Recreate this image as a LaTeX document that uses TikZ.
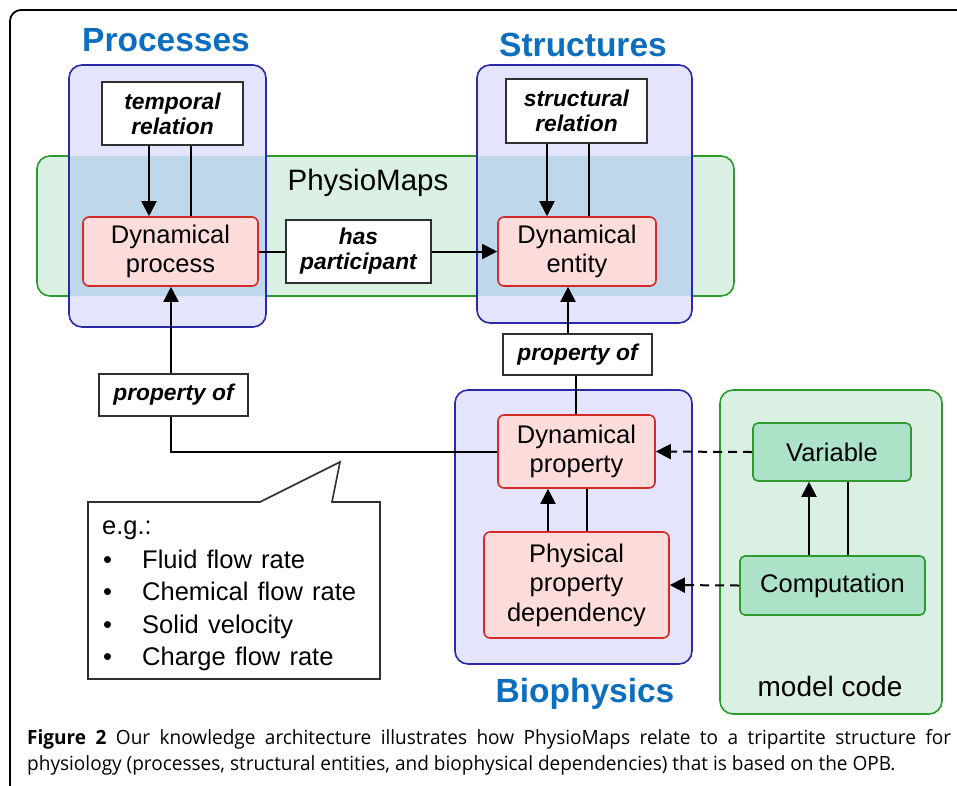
\documentclass[tikz,border=0pt]{standalone}
\usepackage{fontspec}
\setmainfont{Liberation Sans}
\newfontfamily\capfont[FakeStretch=0.97]{Open Sans}
\newfontfamily\calfamily[WordSpace=1.3]{Liberation Sans}
\usetikzlibrary{arrows.meta,calc}
\definecolor{titleblue}{RGB}{12,110,190}
\definecolor{lav}{HTML}{E4E4FC}
\definecolor{bluebd}{HTML}{2A2AA8}
\definecolor{lgreen}{HTML}{D9F0E3}
\definecolor{greenbd}{HTML}{2E9A2E}
\definecolor{ovl}{HTML}{BFD7EA}
\definecolor{pinkc}{HTML}{FFDCDC}
\definecolor{redbd}{HTML}{D42A2A}
\definecolor{mgreen}{HTML}{ABE2C8}
\definecolor{relbd}{HTML}{303030}
\newcommand\nodefont{\fontsize{25.5}{29.5}\selectfont}
\newcommand\relfont{\bfseries\itshape\fontsize{22.8}{25}\selectfont}
\newcommand\titlefont{\bfseries\fontsize{33.5}{38}\selectfont}
\newcommand\calfont{\calfamily\fontsize{25.5}{32}\selectfont}
\newcommand\bul[1]{\makebox[40pt][l]{\hspace{1pt}\textbullet}#1}
\begin{document}
\begin{tikzpicture}[x=1pt,y=-1pt,
  redn/.style={draw=redbd, fill=pinkc, line width=1.6pt, rounded corners=6pt,
    align=center, font=\nodefont, inner sep=0pt},
  greenn/.style={draw=greenbd, fill=mgreen, line width=1.6pt, rounded corners=5pt,
    align=center, font=\nodefont, inner sep=0pt},
  relbox/.style={draw=relbd, fill=white, line width=1.6pt, align=center,
    font=\relfont, inner sep=0pt},
  grouptitle/.style={font=\titlefont, text=titleblue, inner sep=0pt},
  bluegrp/.style={draw=bluebd, line width=1.6pt, rounded corners=13pt},
  greengrp/.style={draw=greenbd, fill=lgreen, line width=1.6pt, rounded corners=13pt},
  conn/.style={line width=2pt, draw=black},
  arr/.style={conn, -{Triangle[length=15pt,width=15pt]}},
  dasharr/.style={arr, dash pattern=on 9pt off 6pt},
  calltext/.style={anchor=base west, font=\calfont, inner sep=0pt}
]
\useasboundingbox (0,0) rectangle (957,785);
\clip (0,0) rectangle (957,785);
% outer frame
\draw[line width=1.8pt, rounded corners=11pt] (10,10) rectangle (990,820);

% PhysioMaps group
\draw[greengrp] (37,156) rectangle (734,296);
% Processes / Structures groups (fills)
\fill[lav, rounded corners=13pt] (69,65) rectangle (266,327);
\fill[lav, rounded corners=13pt] (477,65) rectangle (692,323);
\begin{scope}
  \clip[rounded corners=13pt] (37,156) rectangle (734,296);
  \fill[ovl, rounded corners=13pt] (69,65) rectangle (266,327);
  \fill[ovl, rounded corners=13pt] (477,65) rectangle (692,323);
\end{scope}
\draw[bluegrp] (69,65) rectangle (266,327);
\draw[bluegrp] (477,65) rectangle (692,323);
% Biophysics group
\draw[bluegrp, fill=lav] (455,390) rectangle (692,664);
% model code group
\draw[greengrp] (720,390) rectangle (942,714);

% titles and labels
\node[grouptitle] (tproc) at (166,40) {Processes};
\node[grouptitle] (tstruct) at (583,45) {Structures};
\node[grouptitle] (tbio) at (585,694) {Biophysics};
\node[font=\fontsize{29.5}{33}\selectfont, inner sep=0pt] (tmaps) at (368,183) {PhysioMaps};
\node[font=\fontsize{28}{32}\selectfont, inner sep=0pt] (tcode) at (830,686) {model code};

% nodes
\node[relbox, minimum width=141pt, minimum height=63pt] (trel) at (172.5,113.5) {temporal\\relation};
\node[redn, minimum width=175pt, minimum height=69pt] (dproc) at (170.5,251.5) {Dynamical\\process};
\node[relbox, minimum width=145pt, minimum height=63pt] (hasp) at (358.5,251.5) {has\\participant};
\node[relbox, minimum width=141pt, minimum height=64pt] (srel) at (576.5,111) {structural\\relation};
\node[redn, minimum width=158pt, minimum height=69pt] (dent) at (577,251.5) {Dynamical\\entity};
\node[relbox, minimum width=149pt, minimum height=41pt] (prop2) at (577.5,354.5) {property of};
\node[redn, minimum width=157pt, minimum height=73pt] (dprop) at (576.5,451.5) {Dynamical\\property};
\node[redn, minimum width=185pt, minimum height=106pt] (ppd) at (576.5,585) {Physical\\property\\dependency};
\node[greenn, minimum width=158pt, minimum height=58pt] (var) at (832,452) {Variable};
\node[greenn, minimum width=185pt, minimum height=59pt] (comp) at (832.5,585.5) {Computation};
\node[relbox, minimum width=149pt, minimum height=42pt] (prop1) at (173.5,395) {property of};

% connectors
\draw[arr] ([xshift=-23.5pt]trel.south) -- ([xshift=-21.5pt]dproc.north);
\draw[conn] ([xshift=18.5pt]trel.south) -- ([xshift=20.5pt]dproc.north);
\draw[arr] ([xshift=-29.5pt]srel.south) -- ([xshift=-30pt]dent.north);
\draw[conn] ([xshift=12.5pt]srel.south) -- ([xshift=12pt]dent.north);
\draw[conn] (dproc.east) -- (hasp.west);
\draw[arr] (hasp.east) -- (dent.west);
\draw[arr] ([xshift=-9.5pt]prop2.north) -- ([xshift=-9pt]dent.south);
\draw[conn] ([xshift=-1.5pt]prop2.south) -- ([xshift=-0.5pt]dprop.north);
\draw[arr] ([xshift=-28.5pt]ppd.north) -- ([xshift=-28.5pt]dprop.south);
\draw[conn] ([xshift=10.5pt]ppd.north) -- ([xshift=10.5pt]dprop.south);
\draw[arr] ([xshift=-23.5pt]comp.north) -- ([xshift=-23pt]var.south);
\draw[conn] ([xshift=15.5pt]comp.north) -- ([xshift=16pt]var.south);
\draw[dasharr] (var.west) -- (dprop.east);
\draw[dasharr] (comp.west) -- (ppd.east);
\draw[conn] (dprop.west) -| ([xshift=-2.5pt]prop1.south);
\draw[arr] ([xshift=-2.5pt]prop1.north) -- ([xshift=0.5pt]dproc.south);

% callout
\draw[draw=relbd, fill=white, line width=1.6pt] (88,502) -- (260,502) -- (340,462) -- (332,502) -- (380,502) -- (380,679) -- (88,679) -- cycle;
\node[calltext] (eg) at (102,534.5) {e.g.:};
\node[calltext] (ex1) at (102,568) {\bul{Fluid flow rate}};
\node[calltext] (ex2) at (102,600.5) {\bul{Chemical flow rate}};
\node[calltext] (ex3) at (102,633) {\bul{Solid velocity}};
\node[calltext] (ex4) at (102,665) {\bul{Charge flow rate}};

% caption
\node[anchor=base west, inner sep=0pt, font=\capfont\fontsize{19.6}{26}\selectfont] (cap1) at (27,744)
  {\makebox[924pt][s]{\textbf{Figure 2} Our knowledge architecture illustrates how PhysioMaps relate to a tripartite structure for}};
\node[anchor=base west, inner sep=0pt, font=\capfont\fontsize{19.6}{26}\selectfont] (cap2) at (27,770)
  {physiology (processes, structural entities, and biophysical dependencies) that is based on the OPB.};
\end{tikzpicture}
\end{document}
